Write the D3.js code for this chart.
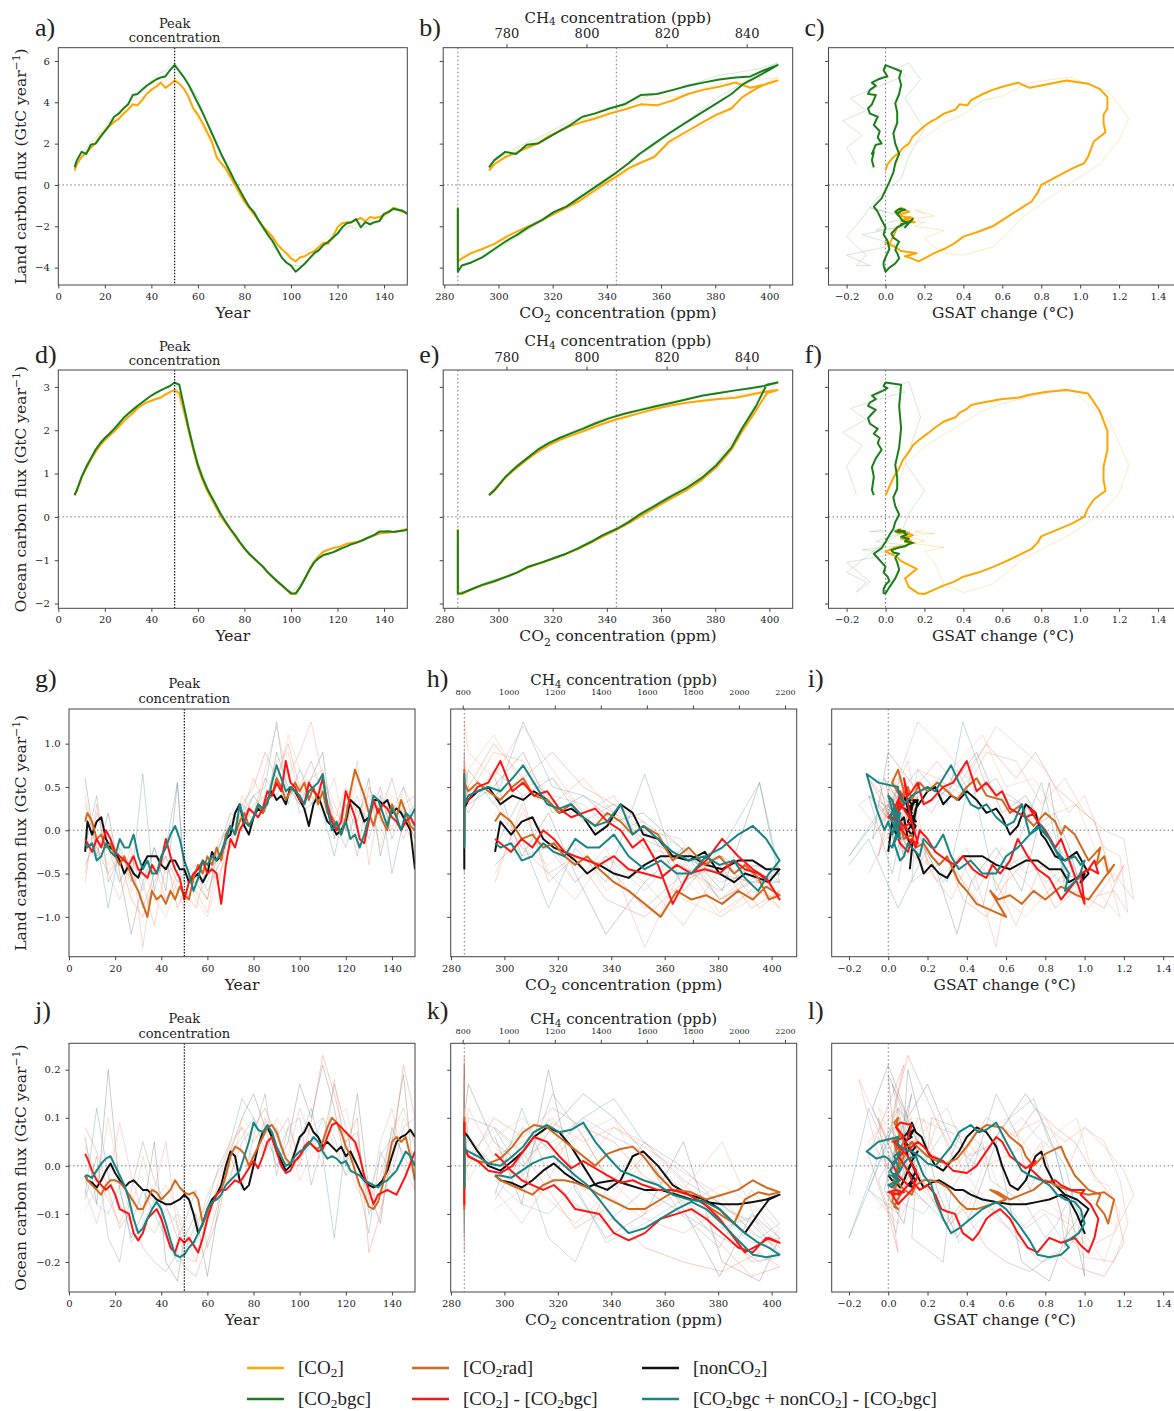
<!DOCTYPE html>
<html>
<head>
<meta charset="utf-8">
<script src="https://cdn.jsdelivr.net/npm/d3@7"></script>
<style>
  body { margin: 0; background: #fff; }
  svg text { fill: #222; }
</style>
</head>
<body>
<div id="chart"></div>
<script>
// ---- data ----

// model years of the running means (main lines)
var years = [7, 8, 10, 12, 14, 16, 18, 20, 22, 24, 26, 28, 30, 32, 34, 36, 38, 40, 42, 44, 46, 48, 50,
  52, 54, 56, 58, 60, 62, 64, 66, 68, 70, 72, 74, 76, 78, 80, 82, 84, 86, 88, 90, 92, 94, 96, 98, 100,
  102, 104, 106, 108, 110, 112, 114, 116, 118, 120, 122, 124, 126, 128, 130, 132, 134, 136, 138, 140, 142, 144, 146, 148, 150];

// CO2 concentration (ppm) in those years
var co2Conc = [296.5, 298.5, 302.5, 306.5, 310.5, 314.5, 318.5, 322.5, 326.5, 331, 335.5, 341, 346.5, 352.5, 358.5, 364.5, 370, 375.5, 381.5, 387.5, 393, 398, 403,
  399, 395, 390, 386, 380.5, 375, 369, 363, 357.5, 352, 348, 343.5, 338.5, 334, 329.5, 325, 320.5, 316, 311, 307, 303, 298.5, 294, 290, 286.5,
  285, 285, 285, 285, 285, 285, 285, 285, 285, 285, 285, 285, 285, 285, 285, 285, 285, 285, 285, 285, 285, 285, 285, 285, 285];

// [CO2] and [CO2bgc]
var landCO2 = [0.7, 1.0, 1.35, 1.55, 1.8, 2.0, 2.35, 2.6, 2.85, 3.05, 3.2, 3.45, 3.65, 3.9, 3.85, 4.1, 4.4, 4.6, 4.75, 4.95, 4.7, 4.85, 5.05,
  4.9, 4.65, 4.25, 3.7, 3.4, 3.0, 2.55, 2.1, 1.35, 1.05, 0.8, 0.4, 0.0, -0.4, -0.8, -1.1, -1.4, -1.7, -2.0, -2.25, -2.5, -2.85, -3.1, -3.3, -3.55,
  -3.7, -3.5, -3.45, -3.3, -3.2, -3.0, -2.8, -2.85, -2.5, -2.05, -1.85, -1.8, -1.8, -1.7, -1.6, -1.75, -1.55, -1.6, -1.55, -1.45, -1.3, -1.1, -1.2, -1.3, -1.35];
var landBgc = [0.85, 1.2, 1.6, 1.5, 1.95, 2.0, 2.3, 2.6, 2.9, 3.3, 3.45, 3.7, 3.9, 4.35, 4.4, 4.6, 4.8, 4.95, 5.1, 5.2, 5.25, 5.55, 5.8,
  5.5, 5.2, 4.85, 4.4, 3.95, 3.5, 3.0, 2.5, 2.0, 1.5, 1.05, 0.6, 0.15, -0.25, -0.65, -1.05, -1.3, -1.7, -2.05, -2.4, -2.7, -3.1, -3.5, -3.75, -3.9,
  -4.2, -4.0, -3.8, -3.55, -3.3, -3.15, -2.9, -2.75, -2.55, -2.35, -2.05, -1.85, -1.8, -1.65, -2.05, -1.8, -1.9, -1.8, -1.75, -1.4, -1.3, -1.15, -1.2, -1.25, -1.4];
var oceanCO2 = [0.5, 0.6, 0.9, 1.12, 1.32, 1.5, 1.65, 1.77, 1.87, 1.97, 2.08, 2.2, 2.3, 2.4, 2.5, 2.58, 2.64, 2.68, 2.72, 2.75, 2.82, 2.88, 2.93,
  2.85, 2.45, 1.98, 1.55, 1.15, 0.85, 0.6, 0.4, 0.2, 0.0, -0.15, -0.3, -0.45, -0.6, -0.74, -0.85, -0.96, -1.06, -1.16, -1.28, -1.38, -1.5, -1.58, -1.68, -1.78,
  -1.77, -1.62, -1.42, -1.2, -1.02, -0.9, -0.8, -0.76, -0.72, -0.7, -0.67, -0.62, -0.6, -0.58, -0.55, -0.5, -0.46, -0.42, -0.38, -0.37, -0.36, -0.35, -0.33, -0.3, -0.28];
var oceanBgc = [0.5, 0.62, 0.92, 1.15, 1.35, 1.55, 1.7, 1.82, 1.92, 2.03, 2.15, 2.28, 2.38, 2.47, 2.56, 2.64, 2.72, 2.8, 2.86, 2.92, 2.97, 3.02, 3.1,
  3.05, 2.55, 2.05, 1.6, 1.2, 0.9, 0.65, 0.45, 0.25, 0.05, -0.12, -0.28, -0.42, -0.58, -0.72, -0.85, -0.95, -1.05, -1.15, -1.28, -1.38, -1.48, -1.57, -1.67, -1.76,
  -1.77, -1.62, -1.42, -1.22, -1.05, -0.95, -0.88, -0.85, -0.82, -0.77, -0.72, -0.68, -0.63, -0.6, -0.56, -0.51, -0.46, -0.41, -0.34, -0.34, -0.33, -0.35, -0.33, -0.32, -0.3];
var gsatCO2 = [0.0, 0.01, 0.04, 0.07, 0.09, 0.12, 0.14, 0.17, 0.2, 0.23, 0.26, 0.3, 0.36, 0.38, 0.42, 0.44, 0.5, 0.55, 0.6, 0.68, 0.74, 0.82, 0.93,
  1.04, 1.1, 1.14, 1.14, 1.12, 1.12, 1.13, 1.07, 1.04, 1.02, 0.96, 0.88, 0.8, 0.78, 0.75, 0.7, 0.65, 0.6, 0.55, 0.48, 0.4, 0.35, 0.3, 0.25, 0.2,
  0.17, 0.12, 0.1, 0.16, 0.08, 0.05, 0.0, 0.02, 0.04, 0.06, 0.1, 0.12, 0.15, 0.1, 0.13, 0.08, 0.12, 0.14, 0.1, 0.06, 0.12, 0.08, 0.1, 0.06, 0.08];
var gsatBgc = [-0.06, -0.07, -0.06, -0.07, -0.05, -0.02, -0.04, -0.03, -0.06, -0.04, -0.08, -0.09, -0.07, -0.05, -0.09, -0.08, -0.05, -0.07, -0.04, -0.01, 0.01, -0.01, 0.0,
  0.08, 0.07, 0.08, 0.07, 0.05, 0.06, 0.06, 0.04, 0.05, 0.07, 0.05, 0.04, 0.02, 0.0, -0.02, -0.06, -0.04, -0.02, 0.0, -0.01, 0.01, 0.02, 0.0, -0.01, -0.01,
  0.0, 0.02, 0.05, 0.07, 0.06, 0.05, 0.06, 0.07, 0.04, 0.03, 0.06, 0.1, 0.12, 0.14, 0.1, 0.12, 0.08, 0.11, 0.09, 0.06, 0.05, 0.07, 0.1, 0.08, 0.06];

// [CO2rad], [nonCO2], [CO2]-[CO2bgc], [CO2bgc+nonCO2]-[CO2bgc]
var landRad = [0.1, 0.2, 0.1, -0.1, -0.05, -0.2, -0.15, -0.3, -0.4, -0.3, -0.45, -0.6, -0.7, -0.85, -1.0, -0.7, -0.8, -0.75, -0.85, -0.7, -0.8, -0.65, -0.75,
  -0.8, -0.55, -0.4, -0.5, -0.3, -0.4, -0.2, -0.35, -0.05, 0.05, -0.05, 0.1, 0.2, 0.05, 0.15, 0.3, 0.2, 0.35, 0.4, 0.6, 0.5, 0.35, 0.45, 0.55, 0.45,
  0.55, 0.35, 0.5, 0.3, 0.45, 0.2, 0.15, 0.05, -0.05, 0.15, 0.45, 0.7, 0.55, 0.4, 0.2, 0.05, 0.25, 0.1, 0.0, 0.3, 0.15, 0.35, 0.2, 0.05, 0.0];
var landNon = [-0.25, 0.1, -0.05, 0.1, 0.15, -0.1, -0.2, -0.25, -0.35, -0.5, -0.4, -0.5, -0.55, -0.4, -0.3, -0.3, -0.3, -0.4, -0.45, -0.35, -0.35, -0.45, -0.45,
  -0.6, -0.55, -0.5, -0.6, -0.5, -0.25, -0.35, -0.3, -0.1, -0.05, 0.2, 0.3, 0.05, -0.05, 0.15, 0.25, 0.2, 0.35, 0.45, 0.35, 0.4, 0.3, 0.5, 0.45, 0.35,
  0.25, 0.05, 0.3, 0.4, 0.25, 0.1, 0.05, -0.05, 0.0, 0.1, 0.35, 0.3, 0.25, 0.1, 0.15, 0.35, 0.35, 0.3, 0.35, 0.2, 0.25, 0.2, 0.1, 0.0, -0.45];
var landDiff = [-0.1, -0.15, -0.25, -0.1, -0.2, 0.0, -0.1, -0.25, -0.3, -0.35, -0.4, -0.3, -0.45, -0.5, -0.55, -0.4, -0.5, -0.35, -0.1, -0.3, -0.45, -0.55, -0.8,
  -0.6, -0.5, -0.45, -0.35, -0.5, -0.45, -0.5, -0.85, -0.4, -0.1, -0.2, 0.0, 0.1, 0.25, 0.2, 0.15, 0.25, 0.45, 0.4, 0.55, 0.45, 0.8, 0.55, 0.5, 0.35,
  0.3, 0.55, 0.45, 0.4, 0.6, 0.3, 0.1, 0.0, 0.1, 0.45, 0.3, 0.15, -0.1, -0.15, 0.1, 0.35, 0.2, 0.3, 0.25, 0.15, 0.1, 0.0, 0.1, 0.15, 0.05];
var landMix = [-0.15, -0.2, -0.15, -0.35, -0.3, -0.15, -0.25, -0.3, -0.1, -0.2, -0.2, -0.05, -0.3, -0.45, -0.35, -0.5, -0.5, -0.3, -0.2, -0.05, 0.05, -0.1, -0.35,
  -0.5, -0.7, -0.55, -0.35, -0.4, -0.3, -0.35, -0.25, -0.1, 0.05, -0.05, 0.3, 0.1, 0.05, 0.15, 0.3, 0.25, 0.3, 0.55, 0.75, 0.6, 0.45, 0.5, 0.45, 0.4,
  0.3, 0.45, 0.5, 0.55, 0.65, 0.25, 0.0, 0.1, -0.05, 0.1, -0.1, -0.05, -0.2, -0.05, 0.15, 0.4, 0.35, 0.2, 0.05, 0.25, 0.15, 0.0, 0.2, 0.15, 0.25];
var oceanRad = [-0.02, -0.03, -0.04, -0.05, -0.06, -0.04, -0.03, -0.03, -0.035, -0.045, -0.06, -0.075, -0.09, -0.09, -0.07, -0.05, -0.055, -0.07, -0.06, -0.05, -0.03, -0.045, -0.055,
  -0.06, -0.055, -0.07, -0.12, -0.1, -0.08, -0.06, -0.05, -0.02, 0.02, 0.04, 0.035, 0.025, 0.0, 0.02, 0.04, 0.06, 0.08, 0.085, 0.07, 0.04, 0.015, 0.005, 0.01, 0.02,
  0.035, 0.05, 0.04, 0.035, 0.05, 0.08, 0.1, 0.09, 0.07, 0.04, 0.02, -0.01, -0.04, -0.06, -0.085, -0.09, -0.075, -0.04, 0.0, 0.05, 0.06, 0.05, 0.06, 0.02, -0.03];
var oceanNon = [-0.02, -0.03, -0.035, -0.045, -0.03, -0.01, 0.005, -0.015, -0.03, -0.045, -0.035, -0.03, -0.04, -0.05, -0.05, -0.06, -0.07, -0.075, -0.08, -0.08, -0.075, -0.07, -0.06,
  -0.07, -0.1, -0.14, -0.12, -0.09, -0.07, -0.06, -0.04, 0.0, 0.03, 0.02, -0.03, -0.05, -0.04, 0.0, 0.04, 0.07, 0.08, 0.06, 0.03, 0.01, -0.01, 0.0, 0.03, 0.06,
  0.07, 0.09, 0.07, 0.06, 0.04, 0.05, 0.04, 0.03, 0.04, 0.02, 0.03, 0.01, -0.01, -0.03, -0.04, -0.045, -0.04, -0.03, -0.01, 0.02, 0.05, 0.06, 0.065, 0.075, 0.06];
var oceanDiff = [0.025, 0.015, -0.01, -0.03, -0.04, -0.05, -0.04, -0.06, -0.09, -0.095, -0.1, -0.14, -0.155, -0.14, -0.11, -0.1, -0.09, -0.11, -0.14, -0.17, -0.18, -0.15, -0.16,
  -0.15, -0.165, -0.18, -0.15, -0.11, -0.08, -0.06, -0.05, -0.05, -0.04, -0.03, -0.035, -0.02, -0.005, 0.01, -0.005, 0.02, 0.05, 0.06, 0.03, 0.0, -0.015, -0.01, 0.01, 0.02,
  0.04, 0.05, 0.04, 0.03, 0.035, 0.06, 0.085, 0.09, 0.08, 0.07, 0.06, 0.05, 0.02, -0.02, -0.05, -0.08, -0.06, -0.055, -0.05, -0.055, -0.06, -0.04, -0.02, 0.005, 0.03];
var oceanMix = [-0.02, -0.02, -0.025, -0.01, 0.005, 0.015, 0.02, 0.0, -0.02, -0.04, -0.07, -0.11, -0.14, -0.13, -0.11, -0.09, -0.075, -0.09, -0.12, -0.155, -0.185, -0.19, -0.185,
  -0.17, -0.16, -0.14, -0.12, -0.09, -0.075, -0.07, -0.06, -0.04, -0.03, -0.02, -0.01, 0.02, 0.05, 0.09, 0.075, 0.07, 0.085, 0.07, 0.04, 0.02, 0.0, 0.005, 0.02, 0.03,
  0.035, 0.045, 0.06, 0.05, 0.03, 0.015, 0.02, 0.015, 0.005, 0.01, -0.01, -0.015, -0.02, -0.03, -0.035, -0.04, -0.045, -0.035, -0.03, -0.02, -0.01, 0.01, 0.03, 0.02, 0.0];
var gsatRad = [0.02, 0.04, 0.06, 0.08, 0.12, 0.14, 0.18, 0.22, 0.26, 0.3, 0.33, 0.36, 0.4, 0.45, 0.6, 0.52, 0.56, 0.62, 0.68, 0.74, 0.8, 0.88, 0.96,
  1.02, 1.1, 1.15, 1.12, 1.1, 1.06, 1.08, 1.02, 0.95, 0.9, 0.88, 0.85, 0.8, 0.74, 0.7, 0.68, 0.62, 0.58, 0.5, 0.45, 0.4, 0.35, 0.3, 0.25, 0.2,
  0.16, 0.12, 0.1, 0.06, 0.08, 0.04, 0.05, 0.03, 0.06, 0.04, 0.08, 0.05, 0.02, 0.06, 0.03, 0.05, 0.02, 0.04, 0.06, 0.03, 0.05, 0.02, 0.04, 0.06, 0.03];
var gsatNon = [0.0, 0.02, 0.04, 0.06, 0.08, 0.1, 0.12, 0.14, 0.16, 0.18, 0.22, 0.26, 0.3, 0.34, 0.38, 0.42, 0.48, 0.55, 0.62, 0.7, 0.76, 0.82, 0.88,
  0.92, 0.96, 1.0, 0.98, 1.02, 0.96, 0.9, 0.85, 0.8, 0.78, 0.75, 0.7, 0.66, 0.62, 0.58, 0.55, 0.5, 0.45, 0.4, 0.36, 0.32, 0.28, 0.24, 0.2, 0.17,
  0.14, 0.12, 0.1, 0.08, 0.1, 0.12, 0.14, 0.12, 0.1, 0.13, 0.15, 0.12, 0.1, 0.14, 0.11, 0.13, 0.1, 0.12, 0.14, 0.1, 0.08, 0.12, 0.1, 0.13, 0.11];
var gsatDiff = [0.05, 0.06, 0.1, 0.12, 0.14, 0.16, 0.2, 0.24, 0.27, 0.3, 0.34, 0.38, 0.43, 0.46, 0.5, 0.53, 0.57, 0.62, 0.66, 0.71, 0.76, 0.82, 0.88,
  0.95, 0.98, 1.02, 1.05, 1.07, 1.03, 0.98, 1.0, 0.93, 0.88, 0.85, 0.8, 0.76, 0.72, 0.75, 0.7, 0.62, 0.58, 0.55, 0.5, 0.45, 0.4, 0.33, 0.28, 0.22,
  0.18, 0.15, 0.12, 0.1, 0.08, 0.1, 0.12, 0.06, 0.04, 0.06, 0.08, 0.03, 0.1, 0.15, 0.12, 0.05, 0.02, 0.08, 0.04, 0.0, 0.06, 0.1, 0.05, 0.02, 0.08];
var gsatMix = [0.0, 0.02, 0.03, 0.06, 0.08, 0.1, 0.14, 0.16, 0.18, 0.22, 0.24, 0.28, 0.32, 0.36, 0.42, 0.48, 0.55, 0.6, 0.66, 0.72, 0.76, 0.82, 0.88,
  0.92, 0.9, 0.97, 1.0, 0.98, 0.95, 0.9, 0.86, 0.82, 0.78, 0.72, 0.68, 0.64, 0.6, 0.55, 0.5, 0.46, 0.42, 0.36, 0.32, 0.28, 0.24, 0.2, 0.16, 0.12,
  0.08, 0.05, 0.05, -0.05, -0.11, -0.06, -0.02, 0.0, 0.02, 0.04, 0.06, 0.04, 0.02, 0.05, 0.03, 0.0, 0.02, 0.04, 0.06, 0.03, 0.01, 0.04, 0.06, 0.03, 0.05];

// thin ensemble members, coarser sampling
var fYears = [7, 12, 17, 22, 27, 32, 37, 42, 47, 50, 55, 60, 65, 70, 75, 80, 85, 90, 95, 100, 105, 110, 115, 120, 125, 130, 135, 140, 145, 150];
var fCo2 = [296.5, 306.5, 316.5, 326.5, 338, 352.5, 367, 381.5, 395.5, 403, 392.5, 380.5, 366, 352, 341, 329.5, 318, 307, 296, 286.5,
  285, 285, 285, 285, 285, 285, 285, 285, 285, 285];

var fLandCO2 = [0.9, 1.7, 2.3, 3.0, 3.4, 4.1, 4.3, 4.9, 5.1, 5.2, 4.5, 3.2, 2.2, 1.0, 0.1, -0.9, -1.6, -2.4, -3.0, -3.4, -3.3, -3.0, -2.6, -2.2, -2.0, -1.8, -1.7, -1.5, -1.2, -1.4];
var fOceanCO2 = [0.55, 1.2, 1.62, 1.9, 2.18, 2.45, 2.62, 2.75, 2.88, 2.95, 2.2, 1.2, 0.55, 0.05, -0.4, -0.75, -1.0, -1.3, -1.55, -1.75, -1.55, -1.05, -0.8, -0.7, -0.62, -0.55, -0.45, -0.38, -0.35, -0.3];
var fGsatCO2 = [0.05, 0.1, 0.2, 0.3, 0.4, 0.5, 0.6, 0.72, 0.85, 0.95, 1.15, 1.25, 1.2, 1.1, 0.95, 0.8, 0.7, 0.62, 0.55, 0.4, 0.3, 0.25, 0.2, 0.3, 0.15, 0.2, 0.1, 0.25, 0.15, 0.2];
var fLandBgc = [1.0, 1.8, 2.4, 3.1, 3.6, 4.2, 4.7, 5.3, 5.6, 5.9, 5.1, 4.2, 2.7, 1.4, 0.3, -0.7, -1.6, -2.5, -3.4, -3.9, -3.9, -3.4, -2.9, -2.4, -2.0, -2.2, -1.8, -1.6, -1.1, -1.3];
var fOceanBgc = [0.52, 1.18, 1.65, 1.95, 2.25, 2.5, 2.7, 2.88, 3.0, 3.12, 2.3, 1.25, 0.6, 0.08, -0.38, -0.74, -1.0, -1.28, -1.5, -1.74, -1.5, -1.05, -0.85, -0.76, -0.65, -0.57, -0.46, -0.36, -0.34, -0.3];
var fGsatBgc = [-0.15, -0.2, -0.12, -0.22, -0.1, -0.18, -0.05, 0.1, 0.05, 0.12, 0.18, 0.1, 0.2, 0.12, 0.08, -0.05, -0.12, -0.2, -0.1, -0.15, -0.08, -0.2, 0.05, -0.12, 0.1, -0.05, 0.02, 0.12, -0.08, 0.0];

var fLandRedA = [0.3, -0.2, -0.5, -0.3, -0.8, -1.0, -0.6, -0.3, -0.9, -0.7, -0.9, -0.4, -0.6, 0.1, 0.3, 0.5, 0.9, 0.6, 1.0, 0.5, 0.8, 0.4, 0.0, 0.3, -0.3, 0.5, 0.2, 0.6, 0.1, -0.2];
var fLandRedB = [-0.5, 0.2, -0.1, -0.6, -0.2, -1.35, -0.4, -0.8, -0.5, -0.8, -0.7, -0.95, -0.3, -0.2, 0.4, 0.2, 0.7, 1.2, 0.6, 0.9, 1.25, 0.6, 0.3, 0.0, 0.8, -0.4, 0.4, 0.0, 0.5, 0.2];
var fLandGreyA = [0.6, -0.3, 0.2, -0.5, -1.2, -0.6, -0.2, -0.7, 0.55, -0.6, -0.6, -0.8, -0.2, 0.2, 0.1, 0.4, 0.2, 0.9, 0.5, 0.3, 0.6, 0.9, -0.1, 0.4, 0.1, 0.6, -0.3, 0.3, 0.2, -0.1];
var fLandGreyB = [-0.2, 0.4, -0.6, -0.3, -0.4, -0.9, -0.5, -0.3, -0.6, -0.5, -0.4, -0.7, -0.4, 0.0, 0.3, 0.1, 0.6, 0.4, 0.7, 0.2, 0.3, 0.5, 0.1, -0.2, 0.3, 0.1, 0.5, -0.1, 0.3, 0.4];
var fLandTealA = [-0.4, -0.1, -0.9, -0.2, -0.6, 0.65, -0.7, -0.2, 0.55, -0.5, -0.6, -0.5, -0.3, -0.1, 0.2, 0.4, 0.5, 1.25, 0.3, 0.7, 0.4, 0.2, -0.3, 0.3, 0.0, 0.2, 0.4, -0.5, 0.1, 0.3];
var fLandTealB = [0.2, -0.3, -0.2, -0.6, -0.3, -0.7, -0.2, -0.5, -0.4, -0.6, -0.5, -0.6, -0.2, 0.1, 0.0, 0.3, 0.4, 0.6, 0.4, 0.5, 0.3, 0.6, 0.2, 0.1, 0.4, -0.1, 0.3, 0.2, 0.5, 0.0];
var fLandBrownA = [-0.6, 0.3, -0.5, -0.8, -0.3, -0.6, -1.1, -0.4, -0.7, -0.9, -0.5, -0.8, -0.1, 0.0, 0.2, 0.6, 0.3, 0.8, 0.9, 0.4, 0.6, 0.7, 0.1, 0.5, 0.2, 0.4, 0.1, 0.3, -0.1, 0.2];
var fLandBrownB = [0.4, -0.2, -0.4, -0.1, -0.7, -0.4, -0.8, -1.0, -0.6, -0.4, -0.8, -1.0, -0.5, -0.2, 0.3, 0.2, 0.6, 0.5, 1.1, 0.7, 0.5, 0.3, 0.6, 0.0, 0.6, 0.3, -0.2, 0.4, 0.3, -0.1];

var fOceanRedA = [0.08, 0.03, -0.05, -0.13, -0.09, -0.17, -0.2, -0.22, -0.18, -0.21, -0.23, -0.16, -0.07, -0.02, 0.05, 0.08, 0.12, 0.06, 0.1, 0.0, 0.09, 0.23, 0.15, 0.05, 0.1, -0.18, -0.1, 0.02, 0.21, 0.1];
var fOceanRedB = [-0.05, -0.12, -0.03, 0.09, -0.02, -0.1, -0.05, 0.05, -0.13, -0.19, -0.2, -0.12, -0.03, 0.05, 0.08, 0.0, 0.1, 0.05, 0.02, 0.12, 0.06, 0.0, 0.18, 0.02, -0.05, -0.08, 0.05, 0.12, 0.0, -0.05];
var fOceanGreyA = [0.06, -0.08, 0.2, -0.05, -0.15, -0.1, 0.05, -0.2, -0.24, -0.15, -0.1, -0.23, -0.08, 0.03, 0.1, 0.15, 0.08, 0.0, 0.05, 0.17, 0.1, 0.21, 0.12, 0.0, 0.15, -0.05, -0.12, 0.05, 0.19, -0.05];
var fOceanGreyB = [-0.07, 0.02, -0.15, -0.2, -0.05, 0.05, -0.03, -0.08, -0.15, -0.12, -0.05, -0.17, -0.1, 0.02, -0.05, 0.06, 0.15, -0.02, 0.08, 0.1, -0.04, 0.05, 0.17, 0.08, -0.03, -0.14, 0.03, -0.02, 0.08, 0.1];
var fOceanTealA = [-0.06, 0.12, -0.02, -0.08, -0.12, -0.05, -0.1, -0.15, -0.2, -0.18, -0.12, -0.08, 0.0, 0.05, 0.14, 0.1, 0.03, 0.08, 0.0, 0.05, 0.12, 0.02, -0.15, 0.05, 0.07, -0.1, -0.05, 0.08, 0.02, -0.02];
var fOceanTealB = [-0.03, -0.08, -0.1, -0.04, -0.16, -0.12, -0.07, -0.13, -0.1, -0.15, -0.16, -0.1, -0.05, 0.03, 0.06, 0.1, 0.05, 0.02, 0.08, 0.02, 0.04, 0.1, 0.06, -0.02, 0.0, -0.06, 0.02, 0.06, 0.03, 0.0];
var fOceanBrownA = [0.04, -0.02, -0.07, -0.12, -0.06, -0.11, -0.14, -0.09, -0.12, -0.17, -0.14, -0.06, -0.01, 0.04, 0.08, 0.05, 0.09, 0.03, 0.0, 0.06, 0.08, 0.1, 0.04, -0.02, 0.05, -0.07, -0.02, 0.07, 0.12, 0.04];
var fOceanBrownB = [-0.09, -0.05, 0.1, -0.03, -0.1, 0.02, -0.08, -0.04, -0.09, -0.13, -0.2, -0.1, -0.04, -0.03, 0.1, 0.07, 0.02, 0.1, 0.06, -0.03, 0.02, 0.05, 0.09, 0.12, 0.02, -0.04, -0.09, 0.0, 0.1, 0.05];

var fGsatRedA = [0.0, 0.1, 0.2, 0.3, 0.38, 0.5, 0.6, 0.72, 0.85, 0.95, 1.1, 1.2, 1.15, 1.05, 0.95, 0.85, 0.75, 0.65, 0.5, 0.35, 0.25, 0.1, 0.05, 0.0, -0.05, 0.05, 0.0, -0.1, 0.08, 0.02];
var fGsatRedB = [-0.1, 0.05, 0.15, 0.25, 0.4, 0.55, 0.62, 0.78, 0.9, 1.0, 1.15, 1.22, 1.18, 1.1, 1.0, 0.92, 0.8, 0.55, 0.4, 0.3, 0.15, 0.05, -0.15, -0.05, 0.1, 0.2, -0.1, 0.05, 0.0, 0.1];
var fGsatGreyA = [-0.05, 0.05, 0.1, 0.25, 0.35, 0.42, 0.55, 0.68, 0.82, 0.9, 0.98, 1.0, 0.92, 0.85, 0.78, 0.7, 0.58, 0.45, 0.32, 0.2, 0.1, 0.0, -0.08, 0.05, 0.12, -0.02, 0.08, 0.15, 0.0, 0.05];
var fGsatGreyB = [0.05, 0.15, 0.12, 0.28, 0.32, 0.48, 0.52, 0.7, 0.8, 0.86, 0.94, 0.9, 0.88, 0.8, 0.72, 0.66, 0.55, 0.42, 0.35, 0.22, 0.18, 0.08, 0.02, 0.1, -0.05, 0.04, 0.1, 0.0, 0.06, 0.12];
var fGsatTealA = [-0.2, -0.1, 0.05, 0.2, 0.3, 0.42, 0.55, 0.65, 0.78, 0.9, 1.0, 0.95, 0.9, 0.82, 0.74, 0.62, 0.5, 0.38, 0.3, 0.15, 0.05, -0.05, -0.2, 0.0, 0.1, 0.05, -0.1, 0.02, 0.08, 0.0];
var fGsatTealB = [0.0, 0.08, 0.18, 0.28, 0.36, 0.45, 0.58, 0.7, 0.8, 0.88, 0.96, 0.98, 0.9, 0.85, 0.76, 0.68, 0.55, 0.42, 0.3, 0.2, 0.12, 0.06, 0.0, 0.04, 0.1, 0.02, 0.06, 0.1, 0.04, 0.08];
var fGsatBrownA = [0.05, 0.12, 0.22, 0.32, 0.42, 0.55, 0.65, 0.78, 0.92, 1.02, 1.15, 1.25, 1.2, 1.1, 1.0, 0.9, 0.78, 0.65, 0.5, 0.38, 0.25, 0.15, 0.1, 0.05, 0.12, 0.0, 0.08, 0.15, 0.05, 0.1];
var fGsatBrownB = [-0.05, 0.08, 0.18, 0.28, 0.4, 0.5, 0.6, 0.7, 0.85, 0.98, 1.1, 1.18, 1.12, 1.05, 0.96, 0.86, 0.74, 0.6, 0.48, 0.32, 0.2, 0.1, 0.02, -0.05, 0.05, 0.1, 0.0, 0.06, 0.12, 0.0];

// tick labels
var yearTicks = [0, 20, 40, 60, 80, 100, 120, 140];
var co2Ticks = [280, 300, 320, 340, 360, 380, 400];
var gsatTicks = [-0.2, 0.0, 0.2, 0.4, 0.6, 0.8, 1.0, 1.2, 1.4];
var ch4TicksTop = [780, 800, 820, 840];
var ch4TicksBottom = [800, 1000, 1200, 1400, 1600, 1800, 2000, 2200];

// legend names
var legendNames = [
  [["[CO", ""], ["2", "sub"], ["]", ""]],
  [["[CO", ""], ["2", "sub"], ["rad]", ""]],
  [["[nonCO", ""], ["2", "sub"], ["]", ""]],
  [["[CO", ""], ["2", "sub"], ["bgc]", ""]],
  [["[CO", ""], ["2", "sub"], ["] - [CO", ""], ["2", "sub"], ["bgc]", ""]],
  [["[CO", ""], ["2", "sub"], ["bgc + nonCO", ""], ["2", "sub"], ["] - [CO", ""], ["2", "sub"], ["bgc]", ""]]
];

// ---- colours ----
var cOrange = "#ffa500", cGreen = "#1a7f1a", cBrown = "#d2691e",
    cBlack = "#111111", cRed = "#ff1414", cTeal = "#158585";

var topMain = [
  {color: cOrange, land: landCO2, ocean: oceanCO2, gsat: gsatCO2},
  {color: cGreen, land: landBgc, ocean: oceanBgc, gsat: gsatBgc}
];
var topFaint = [
  {color: cOrange, op: 0.25, land: fLandCO2, ocean: fOceanCO2, gsat: fGsatCO2},
  {color: "#3a9a3a", op: 0.22, land: fLandBgc, ocean: fOceanBgc, gsat: fGsatBgc}
];
var bottomMain = [
  {color: cBlack, land: landNon, ocean: oceanNon, gsat: gsatNon},
  {color: cBrown, land: landRad, ocean: oceanRad, gsat: gsatRad},
  {color: cRed, land: landDiff, ocean: oceanDiff, gsat: gsatDiff},
  {color: cTeal, land: landMix, ocean: oceanMix, gsat: gsatMix}
];
var bottomFaint = [
  {color: "#f27c6a", op: 0.4, land: fLandRedA, ocean: fOceanRedA, gsat: fGsatRedA},
  {color: "#808080", op: 0.4, land: fLandGreyA, ocean: fOceanGreyA, gsat: fGsatGreyA},
  {color: "#6aa6b6", op: 0.4, land: fLandTealA, ocean: fOceanTealA, gsat: fGsatTealA},
  {color: "#eea070", op: 0.4, land: fLandBrownA, ocean: fOceanBrownA, gsat: fGsatBrownA},
  {color: "#f59080", op: 0.35, land: fLandRedB, ocean: fOceanRedB, gsat: fGsatRedB},
  {color: "#8c8c8c", op: 0.35, land: fLandGreyB, ocean: fOceanGreyB, gsat: fGsatGreyB},
  {color: "#7ab0bf", op: 0.35, land: fLandTealB, ocean: fOceanTealB, gsat: fGsatTealB},
  {color: "#f0b080", op: 0.35, land: fLandBrownB, ocean: fOceanBrownB, gsat: fGsatBrownB}
];

// ---- layout ----
var colsTop = [
  {l: 58.3, r: 407.3, xd: [0, 150], xt: yearTicks, xf: d3.format("d"), xvar: "year"},
  {l: 443.2, r: 792.7, xd: [279.6, 408.6], xt: co2Ticks, xf: d3.format("d"), xvar: "co2",
   ch4d: [764.2, 851.5], ch4t: ch4TicksTop, ch4fs: 13, vlines: [285, 343.5]},
  {l: 828.5, r: 1177.5, xd: [-0.293, 1.5], xt: gsatTicks, xf: d3.format(".1f"), xvar: "gsat"}
];
var colsBottom = [
  {l: 69, r: 415, xd: [0, 150], xt: yearTicks, xf: d3.format("d"), xvar: "year"},
  {l: 450.7, r: 796.7, xd: [279.9, 409.4], xt: co2Ticks, xf: d3.format("d"), xvar: "co2",
   ch4d: [747.9, 2250.8], ch4t: ch4TicksBottom, ch4fs: 8, vlines: [285]},
  {l: 831.7, r: 1177.7, xd: [-0.288, 1.474], xt: gsatTicks, xf: d3.format(".1f"), xvar: "gsat"}
];
var rowsGeom = [
  {top: 47.7, bottom: 285, yd: [-4.84, 6.64], yt: [-4, -2, 0, 2, 4, 6], yf: d3.format("d"), kind: "land",
   block: "top", letters: ["a)", "b)", "c)"], letterY: 36, peakY: [28.3, 41.7], ch4Y: 22.5, ch4Sp: 9.4},
  {top: 370, bottom: 608.3, yd: [-2.11, 3.39], yt: [-2, -1, 0, 1, 2, 3], yf: d3.format("d"), kind: "ocean",
   block: "top", letters: ["d)", "e)", "f)"], letterY: 363, peakY: [350.7, 364.5], ch4Y: 346, ch4Sp: 8.3},
  {top: 709, bottom: 956.7, yd: [-1.46, 1.40], yt: [-1, -0.5, 0, 0.5, 1], yf: d3.format(".1f"), kind: "land",
   block: "bottom", letters: ["g)", "h)", "i)"], letterY: 687, peakY: [688.3, 703.3], ch4Y: 685, ch4Sp: 14},
  {top: 1043.3, bottom: 1292, yd: [-0.2625, 0.255], yt: [-0.2, -0.1, 0, 0.1, 0.2], yf: d3.format(".1f"), kind: "ocean",
   block: "bottom", letters: ["j)", "k)", "l)"], letterY: 1019, peakY: [1023, 1038], ch4Y: 1024, ch4Sp: 9}
];

var svg = d3.select("#chart")
  .append("svg")
    .attr("width", 1174)
    .attr("height", 1411)
    .style("font-family", "'DejaVu Serif', serif");

// write text with sub/superscripts
function rich(sel, parts, size, subK) {
  var shift = 0;
  var k = subK || 0.28;
  parts.forEach(function(p) {
    var s = p[1] == "sub" ? size * k : (p[1] == "sup" ? -size * 0.42 : 0);
    var t = sel.append("tspan").text(p[0]).attr("dy", s - shift);
    if (p[1]) t.attr("font-size", size * 0.7);
    shift = s;
  });
}

function styleAxis(g, fs) {
  g.attr("font-family", "'DejaVu Serif', serif").attr("font-size", fs);
  g.select(".domain").remove();
  g.selectAll(".tick line").attr("stroke", "#444");
  g.selectAll(".tick text").attr("fill", "#333");
}

var line = d3.line();
var clipN = 0;

rowsGeom.forEach(function(r) {
  var cols = r.block == "top" ? colsTop : colsBottom;
  var main = r.block == "top" ? topMain : bottomMain;
  var faint = r.block == "top" ? topFaint : bottomFaint;

  cols.forEach(function(c, ci) {
    var x = d3.scaleLinear().domain(c.xd).range([c.l, c.r]);
    var y = d3.scaleLinear().domain(r.yd).range([r.bottom, r.top]);

    var cid = "clip" + (clipN++);
    svg.append("clipPath").attr("id", cid)
      .append("rect")
        .attr("x", c.l).attr("y", r.top)
        .attr("width", c.r - c.l).attr("height", r.bottom - r.top);
    var g = svg.append("g").attr("clip-path", "url(#" + cid + ")");

    // reference lines
    g.append("line")
      .attr("x1", c.l).attr("x2", c.r)
      .attr("y1", y(0)).attr("y2", y(0))
      .attr("stroke", "#777").attr("stroke-width", 1).attr("stroke-dasharray", "1.5,2.5");
    var vl = [];
    if (c.xvar == "gsat") vl = [0];
    if (c.vlines) vl = c.vlines;
    vl.forEach(function(v) {
      g.append("line")
        .attr("x1", x(v)).attr("x2", x(v))
        .attr("y1", r.top).attr("y2", r.bottom)
        .attr("stroke", "#777").attr("stroke-width", 1).attr("stroke-dasharray", "1.5,2.5");
    });

    function xsFor(s, isFaint) {
      if (c.xvar == "year") return isFaint ? fYears : years;
      if (c.xvar == "co2") return isFaint ? fCo2 : co2Conc;
      return s.gsat;
    }

    // thin members
    faint.forEach(function(s) {
      g.append("path")
        .attr("d", line(d3.zip(xsFor(s, true), s[r.kind]).map(function(d) { return [x(d[0]), y(d[1])]; })))
        .attr("fill", "none")
        .attr("stroke", s.color)
        .attr("stroke-opacity", s.op)
        .attr("stroke-width", 1);
    });
    // main lines
    main.forEach(function(s) {
      g.append("path")
        .attr("d", line(d3.zip(xsFor(s, false), s[r.kind]).map(function(d) { return [x(d[0]), y(d[1])]; })))
        .attr("fill", "none")
        .attr("stroke", s.color)
        .attr("stroke-width", 2)
        .attr("stroke-linejoin", "round");
    });

    // peak concentration marker
    if (c.xvar == "year") {
      g.append("line")
        .attr("x1", x(50)).attr("x2", x(50))
        .attr("y1", r.top).attr("y2", r.bottom)
        .attr("stroke", "#111").attr("stroke-width", 1.2).attr("stroke-dasharray", "1.5,1.5");
      svg.append("text").attr("x", x(50)).attr("y", r.peakY[0])
        .attr("text-anchor", "middle").attr("font-size", 13).text("Peak");
      svg.append("text").attr("x", x(50)).attr("y", r.peakY[1])
        .attr("text-anchor", "middle").attr("font-size", 13).text("concentration");
    }

    // frame
    svg.append("rect")
      .attr("x", c.l).attr("y", r.top)
      .attr("width", c.r - c.l).attr("height", r.bottom - r.top)
      .attr("fill", "none").attr("stroke", "#444").attr("stroke-width", 1);

    // axes
    var ax = svg.append("g")
      .attr("transform", "translate(0," + r.bottom + ")")
      .call(d3.axisBottom(x).tickValues(c.xt).tickFormat(c.xf).tickSize(3.5).tickPadding(4.4));
    styleAxis(ax, 10);
    var ay = svg.append("g")
      .attr("transform", "translate(" + c.l + ",0)")
      .call(d3.axisLeft(y).tickValues(r.yt).tickFormat(ci == 0 ? r.yf : "").tickSize(3.5).tickPadding(5));
    styleAxis(ay, 10);

    if (c.ch4d) {
      var xc = d3.scaleLinear().domain(c.ch4d).range([c.l, c.r]);
      var at = svg.append("g")
        .attr("transform", "translate(0," + r.top + ")")
        .call(d3.axisTop(xc).tickValues(c.ch4t).tickFormat(d3.format("d")).tickSize(3.5).tickPadding(r.ch4Sp - 3.5));
      styleAxis(at, c.ch4fs);
      rich(svg.append("text").attr("x", (c.l + c.r) / 2).attr("y", r.ch4Y)
          .attr("text-anchor", "middle").attr("font-size", 15),
        [["CH", ""], ["4", "sub"], [" concentration (ppb)", ""]], 15, 0.18);
    }

    // x titles
    var xt = svg.append("text")
      .attr("x", (c.l + c.r) / 2).attr("y", r.bottom + 33)
      .attr("text-anchor", "middle").attr("font-size", 15.5);
    if (c.xvar == "year") xt.text("Year");
    else if (c.xvar == "co2") rich(xt, [["CO", ""], ["2", "sub"], [" concentration (ppm)", ""]], 15.5);
    else xt.text("GSAT change (\u00b0C)");

    // panel letter
    svg.append("text")
      .attr("x", ci == 0 ? 35 : c.l - 24).attr("y", r.letterY)
      .attr("font-family", "'Liberation Serif', 'Times New Roman', serif")
      .attr("font-size", 26)
      .text(r.letters[ci]);

    // y title
    if (ci == 0) {
      var yt = svg.append("text")
        .attr("transform", "translate(26," + ((r.top + r.bottom) / 2) + ") rotate(-90)")
        .attr("text-anchor", "middle").attr("font-size", 15.5);
      rich(yt, [[r.kind == "land" ? "Land carbon flux (GtC year" : "Ocean carbon flux (GtC year", ""],
                ["\u22121", "sup"], [")", ""]], 15.5);
    }
  });
});

// ---- legend ----
var legendColors = [cOrange, cBrown, cBlack, cGreen, cRed, cTeal];
var legendX = [247, 412, 642];
var legendY = [1368, 1399];
legendNames.forEach(function(name, i) {
  var lx = legendX[i % 3], ly = legendY[Math.floor(i / 3)];
  svg.append("line")
    .attr("x1", lx).attr("x2", lx + 37)
    .attr("y1", ly).attr("y2", ly)
    .attr("stroke", legendColors[i]).attr("stroke-width", 2.5);
  var t = svg.append("text")
    .attr("x", lx + 51).attr("y", ly + 5.5)
    .attr("font-family", "'Liberation Serif', 'Times New Roman', serif")
    .attr("font-size", 19);
  rich(t, name, 19, 0.16);
});
</script>
</body>
</html>
